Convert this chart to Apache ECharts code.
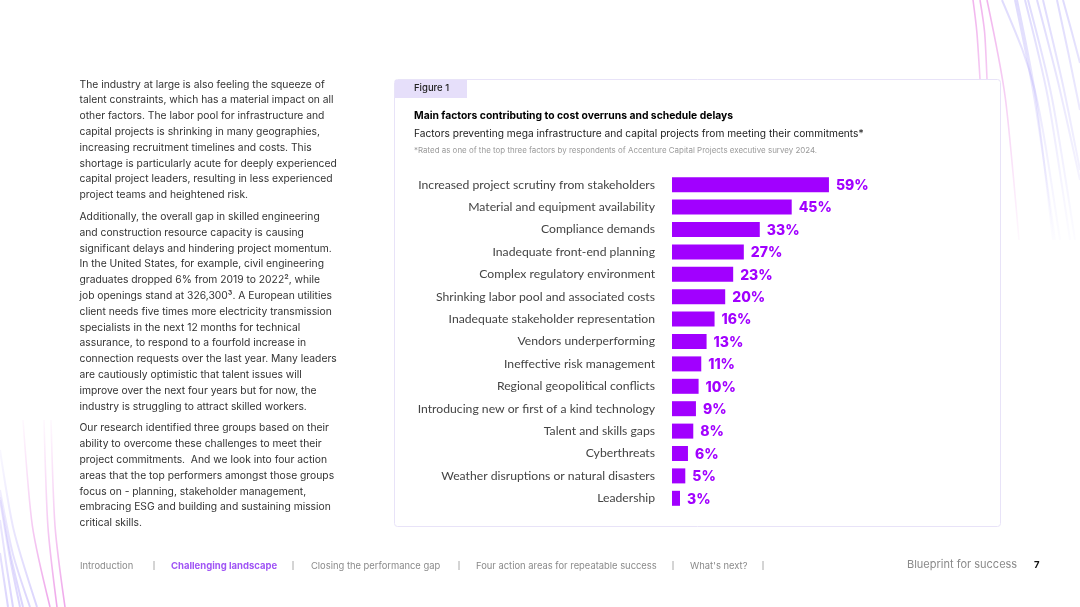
<!DOCTYPE html>
<html>
<head>
<meta charset="utf-8">
<style>
html,body{margin:0;padding:0;background:#fff}
#main{width:1080px;height:607px}
</style>
<script src="https://cdn.jsdelivr.net/npm/echarts@6/dist/echarts.min.js"></script>
</head>
<body>
<div id="main"></div>
<script>
const categories = [
  'Increased project scrutiny from stakeholders',
  'Material and equipment availability',
  'Compliance demands',
  'Inadequate front-end planning',
  'Complex regulatory environment',
  'Shrinking labor pool and associated costs',
  'Inadequate stakeholder representation',
  'Vendors underperforming',
  'Ineffective risk management',
  'Regional geopolitical conflicts',
  'Introducing new or first of a kind technology',
  'Talent and skills gaps',
  'Cyberthreats',
  'Weather disruptions or natural disasters',
  'Leadership'
];
const values = [59, 45, 33, 27, 23, 20, 16, 13, 11, 10, 9, 8, 6, 5, 3];

const bodyLines = [
  'The industry at large is also feeling the squeeze of',
  'talent constraints, which has a material impact on all',
  'other factors. The labor pool for infrastructure and',
  'capital projects is shrinking in many geographies,',
  'increasing recruitment timelines and costs. This',
  'shortage is particularly acute for deeply experienced',
  'capital project leaders, resulting in less experienced',
  'project teams and heightened risk.',
  null,
  'Additionally, the overall gap in skilled engineering',
  'and construction resource capacity is causing',
  'significant delays and hindering project momentum.',
  'In the United States, for example, civil engineering',
  'graduates dropped 6% from 2019 to 2022², while',
  'job openings stand at 326,300³. A European utilities',
  'client needs five times more electricity transmission',
  'specialists in the next 12 months for technical',
  'assurance, to respond to a fourfold increase in',
  'connection requests over the last year. Many leaders',
  'are cautiously optimistic that talent issues will',
  'improve over the next four years but for now, the',
  'industry is struggling to attract skilled workers.',
  null,
  'Our research identified three groups based on their',
  'ability to overcome these challenges to meet their',
  'project commitments.  And we look into four action',
  'areas that the top performers amongst those groups',
  'focus on - planning, stakeholder management,',
  'embracing ESG and building and sustaining mission',
  'critical skills.'
];
const navItems = [
  ['Introduction', 80, false],
  ['Challenging landscape', 171, true],
  ['Closing the performance gap', 311, false],
  ['Four action areas for repeatable success', 476, false],
  ["What's next?", 690, false]
];
const navSeparators = [154, 293, 459, 673, 763];
// decorative ribbon strands, top right and bottom left
const pinkCurves = [
  [973, 0, 977, 30, 980, 79],
  [980, 0, 985, 30, 987, 79],
  [987, 0, 1006, 90, 1019, 240]
];
const lavenderCurves = [
  [1002, 0, 1036, 80, 1060, 240],
  [1015, 0, 1034, 90, 1055, 240],
  [1017, 0, 1036, 90, 1053, 240],
  [1025, 0, 1048, 90, 1070, 240],
  [1028, 0, 1052, 90, 1075, 240],
  [1037, 0, 1058, 80, 1080, 180],
  [1043, 0, 1063, 83, 1080, 170],
  [1057, 0, 1069, 55, 1080, 110],
  [1063, 0, 1072, 32, 1080, 63]
];
const leftPink = [
  [23, 420, 31, 530, 50, 607],
  [44, 420, 47, 530, 57, 607],
  [51, 420, 54, 530, 65, 607]
];
const leftLavender = [
  [0, 450, 12, 530, 37, 607],
  [0, 497, 10, 555, 23, 607],
  [0, 500, 10, 560, 20, 607],
  [0, 520, 6, 565, 13, 607],
  [0, 553, 4, 580, 8, 607],
  [0, 490, 12, 555, 30, 607]
];

const font = 'Inter';
function fade(y1, y2, rgb, a1, a2) {
  return new echarts.graphic.LinearGradient(0, y1, 0, y2, [
    {offset: 0, color: 'rgba(' + rgb + ',' + a1 + ')'},
    {offset: 1, color: 'rgba(' + rgb + ',' + a2 + ')'}
  ], true);
}
function curve(c, stroke, width) {
  return {type: 'bezierCurve', silent: true,
    shape: {x1: c[0], y1: c[1], cpx1: c[2], cpy1: c[3], cpx2: c[2], cpy2: c[3], x2: c[4], y2: c[5]},
    style: {stroke: stroke, lineWidth: width, fill: 'none'}};
}
function label(text, x, y, size, color, weight, align) {
  return {type: 'text', silent: true, x: x, y: y,
    style: {text: text, fontFamily: font, fontSize: size, fill: color, fontWeight: weight || 400,
      textAlign: align || 'left', textVerticalAlign: 'middle'}};
}

let graphics = [];
lavenderCurves.forEach(c => graphics.push(curve(c, fade(0, 240, '175,165,250', 0.4, 0.03), 2)));
pinkCurves.forEach(c => graphics.push(curve(c, fade(0, 240, '232,130,226', 0.6, 0.05), 1.6)));
leftLavender.forEach(c => graphics.push(curve(c, fade(450, 607, '175,160,250', 0.08, 0.45), 2)));
leftPink.forEach(c => graphics.push(curve(c, fade(420, 607, '232,130,226', 0.05, 0.7), 1.6)));

// card + figure tab
graphics.push({type: 'rect', silent: true, shape: {x: 394.5, y: 79.5, width: 606, height: 447, r: 3},
  style: {fill: '#fff', stroke: '#e8e3f8', lineWidth: 1}});
graphics.push({type: 'rect', silent: true, shape: {x: 395, y: 80, width: 72, height: 18},
  style: {fill: '#e6dffa'}});
graphics.push(label('Figure 1', 414, 88, 9.5, '#222', 500));
graphics.push(label('Main factors contributing to cost overruns and schedule delays', 414, 115.5, 10.35, '#000', 700));
graphics.push(label('Factors preventing mega infrastructure and capital projects from meeting their commitments*', 414, 133.5, 10.2, '#222', 400));
graphics.push(label('*Rated as one of the top three factors by respondents of Accenture Capital Projects executive survey 2024.', 414, 150.5, 7.95, '#9a9a9a', 400));

// left column
let y = 84.5;
bodyLines.forEach(line => {
  if (line === null) { y += 6; return; }
  graphics.push(label(line, 79.5, y, 10.3, '#333', 400));
  y += 15.8;
});

// footer
navItems.forEach(n => graphics.push(label(n[0], n[1], 566, n[2] ? 9.5 : 9.4, n[2] ? '#a055f5' : '#8a8a8a', n[2] ? 700 : 400)));
navSeparators.forEach(x => graphics.push({type: 'line', silent: true,
  shape: {x1: x, y1: 561, x2: x, y2: 570}, style: {stroke: '#aaa', lineWidth: 1}}));
graphics.push(label('Blueprint for success', 907, 565, 11, '#8a8a8a', 400));
graphics.push(label('7', 1034, 565.5, 9.5, '#111', 700));

const chart = echarts.init(document.getElementById('main'), null, {renderer: 'canvas'});
chart.setOption({
  animation: false,
  backgroundColor: '#fff',
  graphic: {elements: graphics},
  grid: {left: 672, top: 173.5, width: 266, height: 336, containLabel: false},
  xAxis: {type: 'value', min: 0, max: 100, show: false},
  yAxis: {
    type: 'category', data: categories, inverse: true,
    axisLine: {show: false}, axisTick: {show: false},
    axisLabel: {interval: 0, margin: 17, fontFamily: 'Lato', fontSize: 12.2, color: '#444', align: 'right'}
  },
  series: [{
    type: 'bar', data: values, barWidth: 15, z: 5,
    itemStyle: {color: '#a100ff'},
    label: {show: true, position: 'right', distance: 7, offset: [0, 1], formatter: '{c}%',
      fontFamily: font, fontSize: 14, fontWeight: 800, color: '#a100ff'}
  }]
});
</script>
</body>
</html>
